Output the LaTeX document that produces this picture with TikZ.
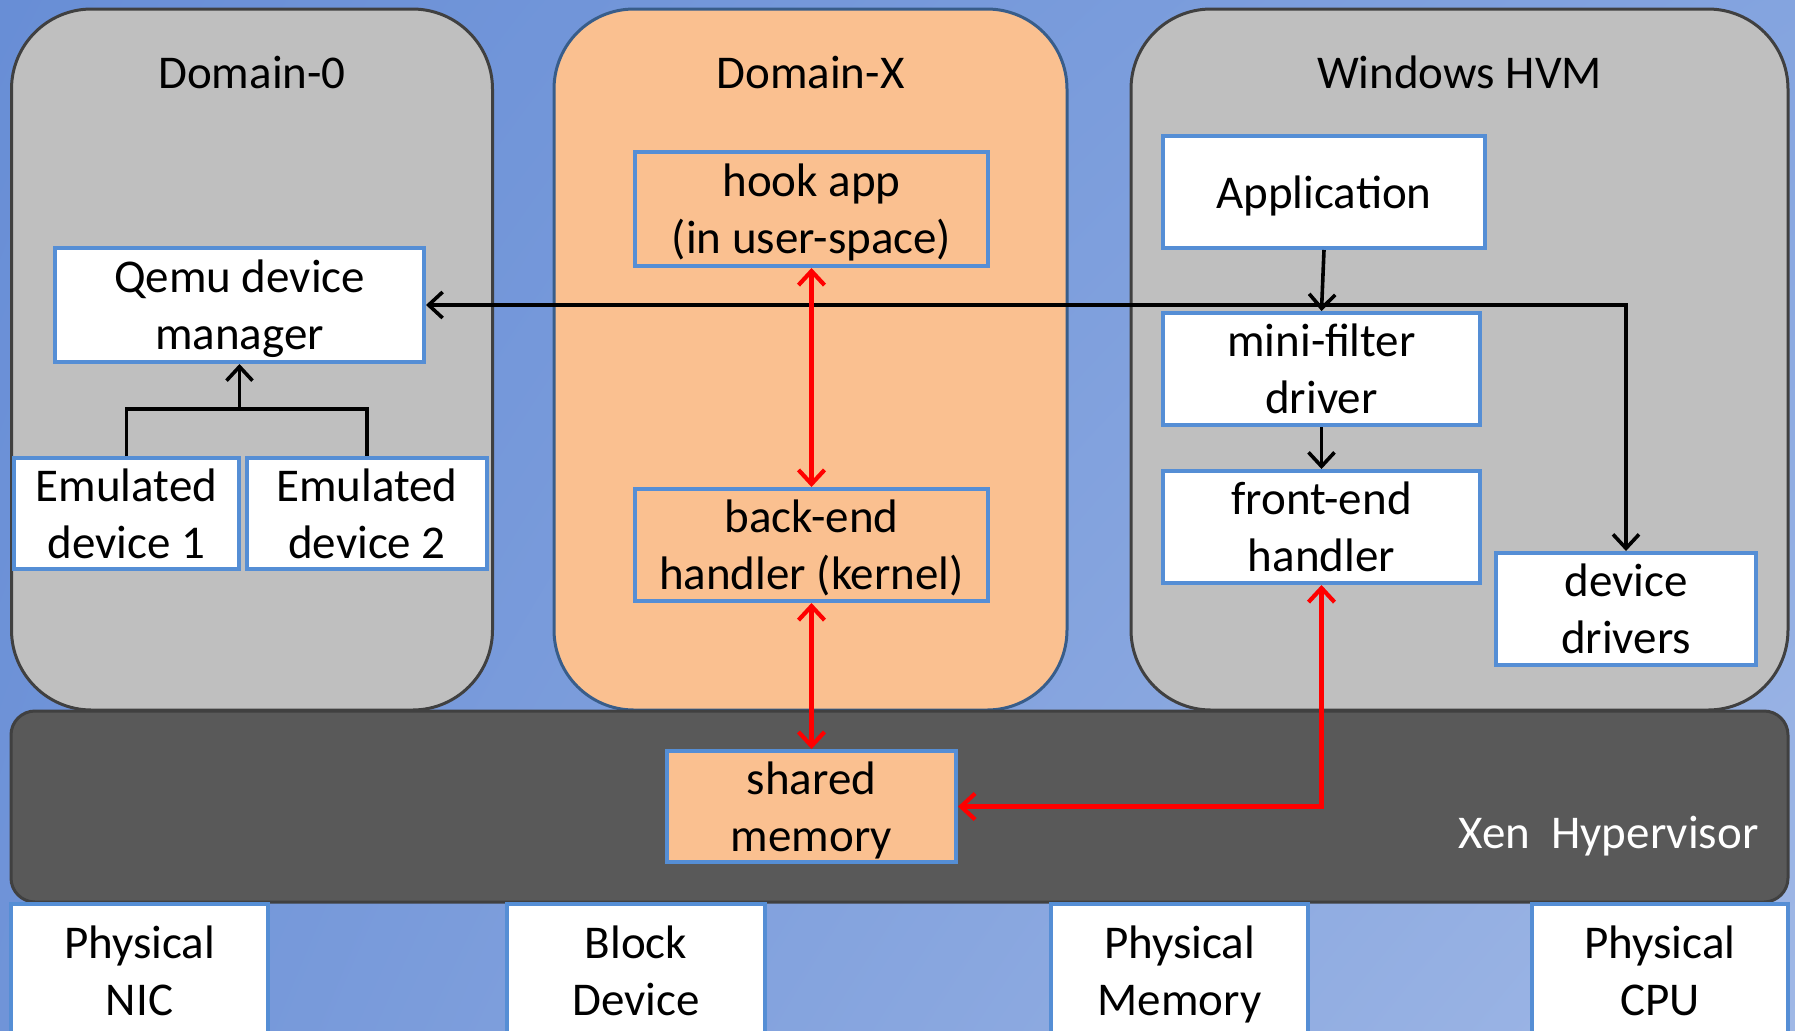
\documentclass[tikz,border=0pt]{standalone}
\usepackage{fontspec}
\setmainfont{Carlito}
\usepackage{xcolor}
\usetikzlibrary{arrows.meta, positioning, calc, shadings}
\definecolor{bgUL}{RGB}{104,142,214}
\definecolor{bgUR}{RGB}{132,164,223}
\definecolor{bgLL}{RGB}{112,148,216}
\definecolor{bgLR}{RGB}{160,184,230}
\definecolor{boxBlue}{RGB}{85,142,213}
\definecolor{domGray}{RGB}{191,191,191}
\definecolor{domEdge}{RGB}{64,64,64}
\definecolor{domOrange}{RGB}{250,192,144}
\definecolor{orangeEdge}{RGB}{56,93,138}
\definecolor{xenGray}{RGB}{89,89,89}
\newcommand{\diagfont}{\fontsize{23.5pt}{28.6pt}\selectfont}

\begin{document}
\begin{tikzpicture}[
    x=0.5pt, y=-0.5pt,
    container/.style={rectangle, rounded corners=40pt, line width=1.5pt, minimum height=350.5pt, inner sep=0pt},
    unitbox/.style={rectangle, draw=boxBlue, line width=2pt, fill=white, align=center, inner sep=0pt, text depth=0pt, minimum height=56pt, font=\diagfont},
    hwbox/.style={unitbox, minimum width=128.5pt, minimum height=67pt},
    title/.style={font=\diagfont},
    conn/.style={line width=1.8pt, black, >={Straight Barb[length=7pt,width=13pt]}},
    redconn/.style={conn, red, line width=2.1pt}
]
\path[use as bounding box, clip] (0,0) rectangle (1795,1030);
\shade[upper left=bgUL, upper right=bgUR, lower left=bgLL, lower right=bgLR] (0,0) rectangle (1795,1030);

% domains
\node[container, draw=domEdge, fill=domGray, minimum width=240.5pt] (dom0) at (252,359.5) {};
\node[container, draw=orangeEdge, fill=domOrange, minimum width=256.5pt] (domx) at (810.5,359.5) {};
\node[container, draw=domEdge, fill=domGray, minimum width=328.5pt] (hvm) at (1459.5,359.5) {};
\node[title] at ($(dom0.north)+(0,65)$) {Domain-0};
\node[title] at ($(domx.north)+(0,65)$) {Domain-X};
\node[title] at ($(hvm.north)+(0,65)$) {Windows HVM};

% hypervisor and hardware
\node[rectangle, rounded corners=12pt, draw=domEdge, fill=xenGray, line width=1.5pt, minimum width=888.5pt, minimum height=95.5pt] (xen) at (899.5,806.5) {};
\node[title, text=white, anchor=east] at ($(xen.east)+(-24,30)$) {Xen~~Hypervisor};
\node[hwbox] (nic) at (139.5,971) {Physical\\NIC};
\node[hwbox, minimum width=129pt] (block) at (636,971) {Block\\Device};
\node[hwbox] (mem) at (1179.5,971) {Physical\\Memory};
\node[hwbox, minimum width=128pt] (cpu) at (1660,971) {Physical\\CPU};

% Domain-0
\node[unitbox, minimum width=184.5pt, minimum height=57pt] (qemu) at (239.5,305) {Qemu device\\manager};
\node[unitbox, minimum width=112.5pt, minimum height=55.5pt] (emu1) at (126.5,513.5) {Emulated\\device 1};
\node[unitbox, minimum width=120pt, minimum height=55.5pt] (emu2) at (367,513.5) {Emulated\\device 2};

% Domain-X
\node[unitbox, fill=domOrange, minimum width=176.5pt, minimum height=57pt] (hook) at (811.5,209) {hook app\\(in user-space)};
\node[unitbox, fill=domOrange, minimum width=176.5pt] (backend) at (811.5,545) {back-end\\handler (kernel)};
\node[unitbox, fill=domOrange, minimum width=144.5pt, minimum height=55.5pt] (shared) at (811.5,806.5) {shared\\memory};

% Windows HVM
\node[unitbox, minimum width=161pt] (app) at (1324,192) {Application};
\node[unitbox, minimum width=158.5pt] (minifilter) at (1321.5,369) {mini-filter\\driver};
\node[unitbox, minimum width=158.5pt, below=21pt of minifilter] (frontend) {front-end\\handler};
\node[unitbox, minimum width=130pt] (drivers) at (1626,609) {device\\drivers};

% connectors
\coordinate (join) at (239.5,409);
\draw[conn] (emu1.north) |- (join) -| (emu2.north);
\draw[conn, ->] (join) -- (qemu.south);
\draw[conn, <->] (qemu.east) -| (drivers.north);
\draw[conn, ->] (app.south) -- (minifilter.north);
\draw[conn, ->] (minifilter.south) -- (frontend.north);
\draw[redconn, <->] (hook.south) -- (backend.north);
\draw[redconn, <->] (backend.south) -- (shared.north);
\draw[redconn, <->] (frontend.south) |- (shared.east);
\end{tikzpicture}
\end{document}
